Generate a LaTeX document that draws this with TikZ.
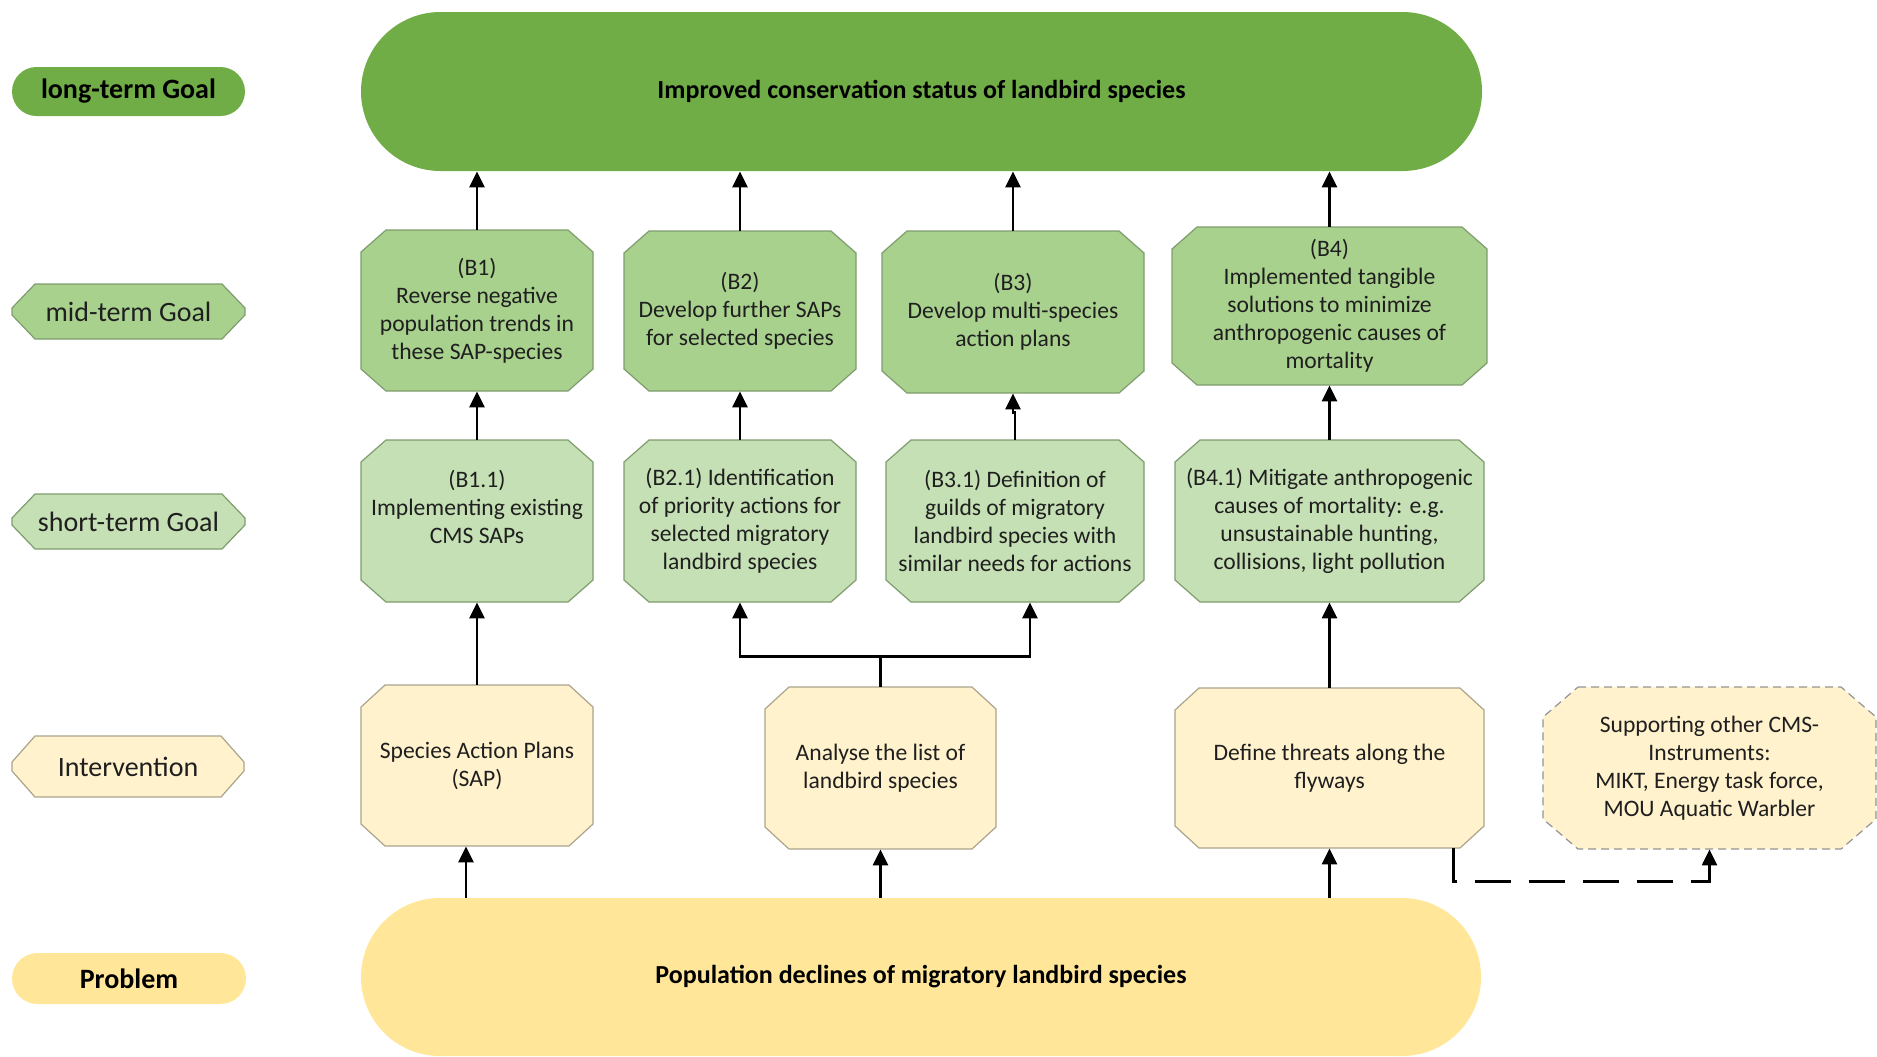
\documentclass[tikz,border=0pt]{standalone}
\usepackage{fontspec}
\setmainfont{Carlito}
\usetikzlibrary{arrows.meta,shapes.misc,backgrounds,calc}

\definecolor{goalLong}{HTML}{70AD47}
\definecolor{goalMid}{HTML}{A9D18E}
\definecolor{goalShort}{HTML}{C5E0B4}
\definecolor{interv}{HTML}{FFF2CC}
\definecolor{probl}{HTML}{FFE699}
\definecolor{greenEdge}{HTML}{7E9C6E}
\definecolor{yellowEdge}{HTML}{ABA48C}

\tikzset{
  boxtext/.style={inner sep=0pt, align=center, font=\fontsize{11.8}{14.05}\selectfont, text=black!88},
  midbox/.style={fill=goalMid, draw=greenEdge, line width=0.6pt},
  shortbox/.style={fill=goalShort, draw=greenEdge, line width=0.6pt},
  intbox/.style={fill=interv, draw=yellowEdge, line width=0.6pt},
  supbox/.style={fill=interv, draw=gray!85, dash pattern=on 4pt off 2.5pt, line width=0.6pt},
  pill/.style={rounded rectangle, inner sep=0pt, align=center},
  arr/.style={-{Triangle[width=7.5pt,length=8pt]}, line width=1.25pt},
  dasharr/.style={arr, dash pattern=on 18pt off 9pt},
}
\newcommand\labfont{\fontsize{14}{16}\selectfont}

% chamfered box: style, name, x1, y1, x2, y2, chamfer x, chamfer y, text
\newcommand\octbox[9]{%
  \path[#1] (#3+#7,#4) -- (#5-#7,#4) -- (#5,#4+#8) -- (#5,#6-#8) -- (#5-#7,#6)
    -- (#3+#7,#6) -- (#3,#6-#8) -- (#3,#4+#8) -- cycle;
  \node[boxtext, minimum width={(#5-#3)*0.5pt}, minimum height={(#6-#4)*0.5pt}]
    (#2) at ({(#3+#5)/2},{(#4+#6)/2}) {#9};
}

\begin{document}
\begin{tikzpicture}[x=0.5pt, y=-0.5pt]
\useasboundingbox (0,0) rectangle (1877,1056);

% row labels
\node[pill, fill=goalLong, minimum width=116.5pt, minimum height=24.5pt,
  font=\bfseries\labfont] (lablong) at (128.5,91.5) {long-term Goal};
\octbox{midbox}{labmid}{12}{284}{245}{339}{23}{24}{\labfont mid-term Goal}
\octbox{shortbox}{labshort}{12}{494}{245}{549}{23}{24}{\labfont short-term Goal}
\octbox{intbox}{labint}{12}{736}{244}{797}{23}{26}{\labfont Intervention}
\node[pill, fill=probl, minimum width=117pt, minimum height=25.5pt,
  font=\bfseries\labfont] (labprob) at (129,978.5) {Problem};

% long-term goal and problem
\node[pill, fill=goalLong, minimum width=560.5pt, minimum height=79.5pt,
  font=\bfseries\fontsize{13}{15}\selectfont] (top) at (921.5,91.5)
  {Improved conservation status of landbird species};
\node[pill, fill=probl, minimum width=560pt, minimum height=79pt,
  font=\bfseries\fontsize{13}{15}\selectfont] (prob) at (921,977)
  {Population declines of migratory landbird species};

% mid-term goals
\octbox{midbox}{b1}{361}{230}{593}{391}{25}{22}{(B1)\\Reverse negative\\population trends in\\these SAP-species}
\octbox{midbox}{b2}{624}{231}{856}{391}{25}{22}{(B2)\\Develop further SAPs\\for selected species}
\octbox{midbox}{b3}{882}{231}{1144}{393}{25}{22}{(B3)\\Develop multi-species\\action plans}
\octbox{midbox}{b4}{1172}{227}{1487}{385}{25}{22}{(B4)\\Implemented tangible\\solutions to minimize\\anthropogenic causes of\\mortality}

% short-term goals
\octbox{shortbox}{b11}{361}{440}{593}{602}{25}{22}{(B1.1)\\Implementing existing\\CMS SAPs\\ \mbox{}}
\octbox{shortbox}{b21}{624}{440}{856}{602}{25}{22}{(B2.1) Identification\\of priority actions for\\selected migratory\\landbird species}
\octbox{shortbox}{b31}{886}{440}{1144}{602}{25}{22}{(B3.1) Definition of\\guilds of migratory\\landbird species with\\similar needs for actions}
\octbox{shortbox}{b41}{1175}{440}{1484}{602}{25}{22}{(B4.1) Mitigate anthropogenic\\causes of mortality: e.g.\\unsustainable hunting,\\collisions, light pollution}

% interventions
\octbox{intbox}{sap}{361}{685}{593}{846}{24}{22}{Species Action Plans\\(SAP)}
\octbox{intbox}{ana}{765}{687}{996}{849}{24}{22}{Analyse the list of\\landbird species}
\octbox{intbox}{def}{1175}{688}{1484}{848}{24}{22}{Define threats along the\\flyways}
\octbox{supbox}{sup}{1543}{687}{1876}{849}{35}{30}{Supporting other CMS-\\Instruments:\\MIKT, Energy task force,\\MOU Aquatic Warbler}

% mid-term -> long-term
\foreach \b in {b1,b2,b3,b4}
  \draw[arr] (\b.north) -- (\b.north |- top.south);

% short-term -> mid-term
\draw[arr] (b11.north) -- (b1.south);
\draw[arr] (b21.north) -- (b2.south);
\draw[arr] (b31.north) -- ++(0,-27) -| (b3.south);
\draw[arr] (b41.north) -- (b4.south);

% interventions -> short-term
\draw[arr] (sap.north) -- (b11.south);
\draw[arr] (ana.north) -- ++(0,-30) -| (b21.south);
\draw[arr] ([yshift=15pt]ana.north) -| ([xshift=7.5pt]b31.south);
\draw[arr] (def.north) -- (b41.south);
\draw[dasharr] ([xshift=62pt]def.south) -- ++(0,33) -| (sup.south);

% problem -> interventions
\draw[arr] ([xshift=-5.5pt]sap.south |- prob.north) -- ([xshift=-5.5pt]sap.south);
\draw[arr] (ana.south |- prob.north) -- (ana.south);
\draw[arr] (def.south |- prob.north) -- (def.south);
\end{tikzpicture}
\end{document}
